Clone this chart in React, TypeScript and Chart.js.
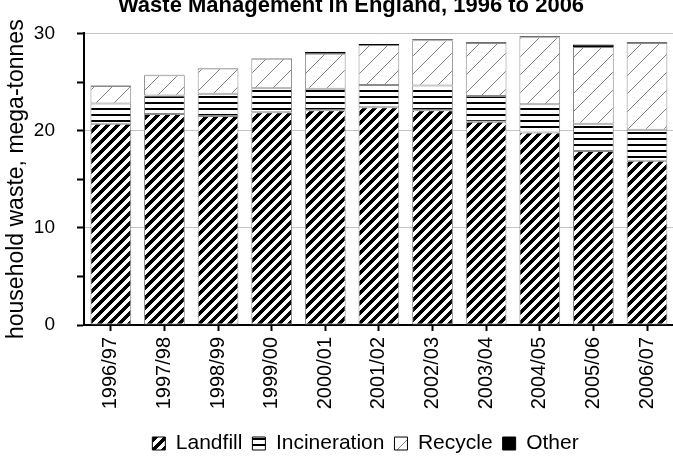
import React, { useEffect, useRef } from 'react';
import { Chart, registerables } from 'chart.js';

Chart.register(...registerables);

const TITLE = 'Waste Management in England, 1996 to 2006';
const Y_TITLE = 'household waste, mega-tonnes';
const categories = ['1996/97', '1997/98', '1998/99', '1999/00', '2000/01', '2001/02', '2002/03', '2003/04', '2004/05', '2005/06', '2006/07'];
const landfill = [20.7, 21.7, 21.5, 21.9, 22.1, 22.4, 22.1, 20.9, 19.8, 17.9, 16.9];
const incineration = [2.1, 1.9, 2.3, 2.45, 2.2, 2.3, 2.55, 2.65, 2.9, 2.8, 3.2];
const recycle = [1.8, 2.1, 2.6, 3.05, 3.6, 4.1, 4.65, 5.45, 6.9, 7.9, 8.9];
const other = [0.05, 0.05, 0.05, 0.05, 0.2, 0.1, 0.1, 0.1, 0.1, 0.25, 0.1];
const yMajorTicks = [0, 10, 20, 30];

const FONT = '"Liberation Sans", Arial, sans-serif';
const LEGEND_SHIFT = 27;

function makePattern(ctx: CanvasRenderingContext2D, w: number, h: number, fn: (x: number, y: number) => string | null) {
  const c = document.createElement('canvas');
  c.width = w;
  c.height = h;
  const g = c.getContext('2d')!;
  g.fillStyle = '#fff';
  g.fillRect(0, 0, w, h);
  for (let y = 0; y < h; y++) {
    for (let x = 0; x < w; x++) {
      const col = fn(x, y);
      if (col) {
        g.fillStyle = col;
        g.fillRect(x, y, 1, 1);
      }
    }
  }
  return ctx.createPattern(c, 'repeat')!;
}

export default function App() {
  const ref = useRef<HTMLCanvasElement | null>(null);

  useEffect(() => {
    document.body.style.margin = '0';
    document.body.style.overflow = 'hidden';
    const canvas = ref.current!;
    const ctx = canvas.getContext('2d')!;
    const landfillPat = makePattern(ctx, 10, 10, (x, y) => ((x + y) % 10 < 5 ? '#000' : null));
    const incinPat = makePattern(ctx, 1, 6, (x, y) => (y % 6 < 2 ? '#000' : null));
    const recyclePat = makePattern(ctx, 18, 18, (x, y) => ((x + y) % 18 === 0 ? '#808080' : null));

    const topTitle = {
      id: 'topTitle',
      afterLayout(chart: any) {
        if (chart.legend) {
          chart.legend.left += LEGEND_SHIFT;
          chart.legend.right += LEGEND_SHIFT;
        }
      },
      afterDraw(chart: any) {
        const c = chart.ctx;
        c.save();
        c.font = 'bold 22px ' + FONT;
        c.fillStyle = '#000';
        c.textAlign = 'center';
        c.textBaseline = 'alphabetic';
        c.fillText(TITLE, 351, 12);
        c.restore();
      },
    };

    const common = { borderColor: '#8a8a8a', borderWidth: 1, borderSkipped: false as const };

    const chart = new Chart(canvas, {
      type: 'bar',
      data: {
        labels: categories,
        datasets: [
          { label: 'Landfill', data: landfill, backgroundColor: landfillPat, ...common },
          { label: 'Incineration', data: incineration, backgroundColor: incinPat, ...common },
          { label: 'Recycle', data: recycle, backgroundColor: recyclePat, ...common },
          { label: 'Other', data: other, backgroundColor: '#000', ...common, borderColor: '#000' },
        ],
      },
      options: {
        responsive: false,
        animation: false,
        devicePixelRatio: 1,
        layout: { padding: { top: 23, bottom: -5, left: 0, right: 0 } },
        datasets: { bar: { barPercentage: 0.76, categoryPercentage: 1 } },
        plugins: {
          tooltip: { enabled: false },
          title: { display: false },
          legend: {
            position: 'bottom',
            labels: {
              color: '#000',
              font: { family: FONT, size: 21 },
              boxWidth: 13,
              boxHeight: 13,
              padding: 10,
              generateLabels: (ch: any) =>
                Chart.defaults.plugins.legend.labels.generateLabels(ch).map((l: any) => ({ ...l, strokeStyle: '#000', lineWidth: 1 })),
            },
          },
        },
        scales: {
          x: {
            stacked: true,
            afterFit: (s: any) => { s.height = 98; },
            border: { display: true, color: '#000', width: 2 },
            grid: {
              display: true,
              offset: false,
              drawOnChartArea: false,
              drawTicks: true,
              tickLength: 6,
              tickColor: '#000',
              tickWidth: 2,
            },
            ticks: {
              color: '#000',
              font: { family: FONT, size: 20 },
              minRotation: 90,
              maxRotation: 90,
              padding: 6,
              autoSkip: false,
            },
          },
          y: {
            stacked: true,
            min: 0,
            max: 30,
            afterFit: (s: any) => { s.width = 84; },
            border: { display: true, color: '#000', width: 2 },
            title: {
              display: true,
              text: Y_TITLE,
              color: '#000',
              font: { family: FONT, size: 23 },
              padding: { top: 3, bottom: 0 },
            },
            grid: {
              color: (c: any) => (yMajorTicks.includes(c.tick?.value) ? '#c4c4c4' : 'rgba(0,0,0,0)'),
              lineWidth: 1,
              tickLength: 7,
              tickColor: '#000',
              tickWidth: 2,
            },
            ticks: {
              stepSize: 2.5,
              color: '#000',
              font: { family: FONT, size: 19 },
              padding: 22,
              callback: (v: any) => (yMajorTicks.includes(Number(v)) ? String(v) : ''),
            },
          },
        },
      },
      plugins: [topTitle],
    });
    return () => chart.destroy();
  }, []);

  return (
    <div style={{ position: 'fixed', left: 0, top: 0, width: 673, height: 459, overflow: 'hidden', background: '#fff' }}>
      <canvas ref={ref} width={677} height={459} style={{ display: 'block', width: 677, height: 459 }} />
    </div>
  );
}
